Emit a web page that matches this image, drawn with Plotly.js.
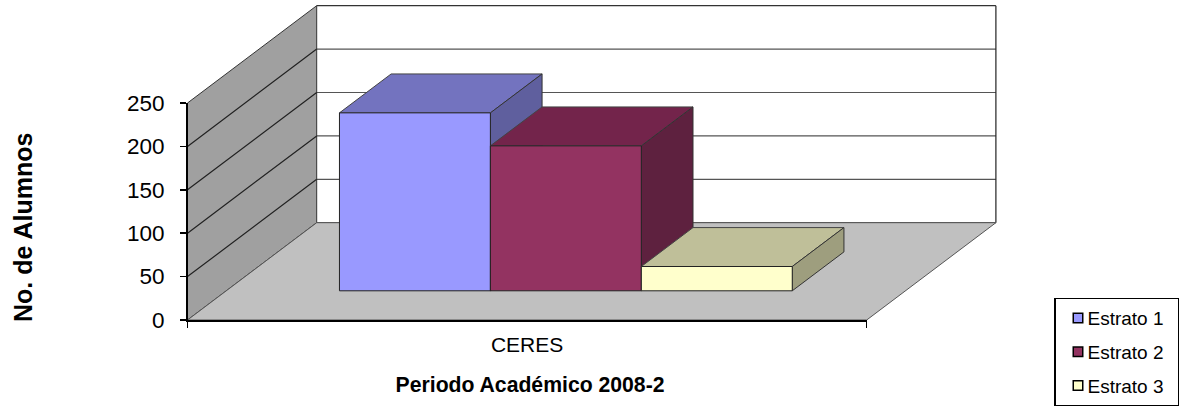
<!DOCTYPE html>
<html><head><meta charset="utf-8">
<script src="https://cdn.plot.ly/plotly-3.0.1.min.js"></script>
<style>html,body{margin:0;padding:0;background:#fff}</style>
</head><body><div id="chart" style="width:1183px;height:406px"></div>
<script>
const categories = ['CERES'];
const seriesNames = ['Estrato 1', 'Estrato 2', 'Estrato 3'];
const estrato1 = [205];
const estrato2 = [167];
const estrato3 = [28];
const frontColors = ['#9999FF', '#933361', '#FFFFCC'];
const topColors = ['#7373BF', '#73244B', '#BFBF99'];
const sideColors = ['#5F5F9E', '#5E213F', '#9E9E7E'];
const yTicks = [0, 50, 100, 150, 200, 250];

const W = 1183, H = 406;
const PXU = 679.2, PXV = 0.868, X0 = 187.5, Y0 = 320;
const DX = 129.2 / PXU, DV = 97.3 / PXV;
const GAP = 1 / 6, BARW = 2 / 9, D0 = 0.3, D1 = 0.7;
const P = (x, v, d) => [x + d * DX, v + d * DV];
function poly(pts, fill, line, lw) {
  const p = pts.map(a => P(a[0], a[1], a[2]));
  return {type: 'scatter', mode: 'lines', x: p.map(a => a[0]).concat(p[0][0]), y: p.map(a => a[1]).concat(p[0][1]),
    fill: fill ? 'toself' : 'none', fillcolor: fill || undefined, line: {color: line, width: lw === undefined ? 1 : lw},
    showlegend: false, hoverinfo: 'skip', xaxis: 'x', yaxis: 'y'};
}
const traces = [];
yTicks.forEach(v => traces.push(poly([[0, v, 1], [1, v, 1]], null, v === 250 ? '#333' : '#555', 1.2)));
traces.push(poly([[1, 0, 1], [1, 250, 1]], null, '#222', 1.2));
traces.push(poly([[0, 0, 0], [0, 0, 1], [0, 250, 1], [0, 250, 0]], '#A0A0A0', '#333', 1));
traces.push(poly([[0, 0, 0], [0, 0, 1], [1, 0, 1], [1, 0, 0]], '#C0C0C0', '#555', 1));
yTicks.slice(1, 5).forEach(v => traces.push(poly([[0, v, 0], [0, v, 1]], null, '#222', 1.2)));
[estrato1, estrato2, estrato3].forEach((vals, i) => {
  vals.forEach((v, c) => {
    const a = c + GAP + i * BARW, b = a + BARW;
    traces.push(poly([[a, v, D0], [b, v, D0], [b, v, D1], [a, v, D1]], topColors[i], '#444', 1));
    traces.push(poly([[b, 0, D0], [b, 0, D1], [b, v, D1], [b, v, D0]], sideColors[i], '#333', 1));
    traces.push(poly([[a, 0, D0], [b, 0, D0], [b, v, D0], [a, v, D0]], frontColors[i], '#222', 1));
  });
});
seriesNames.forEach((n, i) => traces.push({type: 'scatter', mode: 'markers', x: [null], y: [null], name: n, xaxis: 'x2', yaxis: 'y2',
  legendgroup: n, marker: {symbol: 'square', size: 9.5, color: frontColors[i], line: {color: '#000', width: 1.5}}}));

const family = '"Liberation Sans", Arial, sans-serif';
const pxL = 183.5, pxR = 1001, pyT = 1.5, pyB = 324;
const hidden = {visible: false, showgrid: false, zeroline: false};
Plotly.newPlot('chart', traces, {
  width: W, height: H, paper_bgcolor: '#fff', plot_bgcolor: 'rgba(0,0,0,0)',
  margin: {l: 0, r: 0, t: 0, b: 0, pad: 0, autoexpand: false},
  font: {family, color: '#000'},
  xaxis: Object.assign({domain: [pxL / W, pxR / W], range: [(pxL - X0) / PXU, (pxR - X0) / PXU], anchor: 'y'}, hidden),
  yaxis: Object.assign({domain: [1 - pyB / H, 1 - pyT / H], range: [(Y0 - pyB) / PXV, (Y0 - pyT) / PXV], anchor: 'x'}, hidden),
  xaxis2: {domain: [X0 / W, (X0 + PXU) / W], range: [0, 1], anchor: 'y2', tickvals: [0.5], ticktext: categories, ticks: '', showgrid: false, zeroline: false,
    showline: true, linecolor: '#000', linewidth: 1.5,
    minor: {tickvals: [0, 1], ticks: 'outside', ticklen: 6, tickwidth: 1.5, tickcolor: '#000', showgrid: false},
    tickfont: {size: 21, family, color: '#000'}, ticklabelstandoff: 5,
    title: {text: '<b>&nbsp;Periodo Académico 2008-2</b>', standoff: 22, font: {size: 21.2, family, color: '#000'}}},
  yaxis2: {domain: [1 - Y0 / H, 1 - (Y0 - 250 * PXV) / H], range: [0, 250], anchor: 'x2', tickvals: yTicks, ticks: 'outside', ticklen: 6, tickwidth: 1.5, tickcolor: '#000',
    showline: true, linecolor: '#000', linewidth: 1.5, showgrid: false, zeroline: false, ticklabelstandoff: 11,
    tickfont: {size: 22.5, family, color: '#000'}},
  annotations: [{text: '<b>No. de Alumnos</b>', xref: 'paper', yref: 'paper', x: 23 / W, y: 1 - 228 / H, xanchor: 'center', yanchor: 'middle',
    textangle: -90, showarrow: false, font: {size: 25, family, color: '#000'}}],
  legend: {xref: 'paper', yref: 'paper', x: 1054 / W, xanchor: 'left', y: 1 - 297.7 / H, yanchor: 'top', bgcolor: '#fff', bordercolor: '#000', borderwidth: 1.5,
    traceorder: 'grouped', tracegroupgap: 6, entrywidth: 91, entrywidthmode: 'pixels', font: {size: 19, family, color: '#000'}},
  showlegend: true
}, {displayModeBar: false, staticPlot: true}).then(() => {
  document.querySelectorAll('.legend .legendtext').forEach(t => t.setAttribute('x', +t.getAttribute('x') - 8));
  document.querySelectorAll('.legend .legendsymbols').forEach(t => t.setAttribute('transform', 'translate(2.5,0)'));
});
</script></body></html>
